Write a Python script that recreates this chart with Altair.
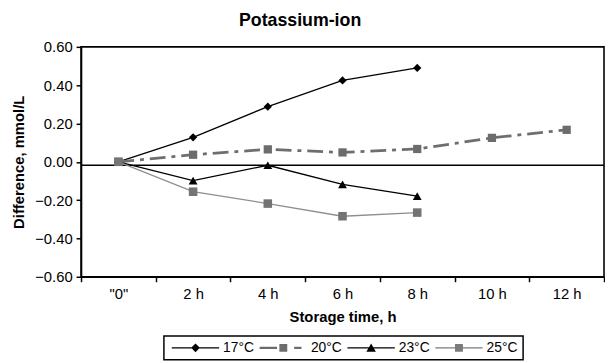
import altair as alt
import pandas as pd

times = ['"0"', "2 h", "4 h", "6 h", "8 h", "10 h", "12 h"]
series_names = ["17°C", "20°C", "23°C", "25°C"]
s17 = [0.0, 0.128, 0.288, 0.425, 0.49]
s20 = [0.0, 0.037, 0.065, 0.049, 0.067, 0.125, 0.167]
s23 = [0.0, -0.098, -0.018, -0.118, -0.179]
s25 = [0.0, -0.156, -0.218, -0.284, -0.265]
y_ticks = [-0.6, -0.4, -0.2, 0.0, 0.2, 0.4, 0.6]
zero_line = [-0.018]

rows = []
for name, vals in zip(series_names, [s17, s20, s23, s25]):
    for t, v in zip(times, vals):
        rows.append({"series": name, "time": t, "value": v})
df = pd.DataFrame(rows)

FONT = "Liberation Sans"

line_styles = {
    "17°C": dict(color="#000000", strokeWidth=1.3),
    "20°C": dict(color="#6e6e6e", strokeWidth=2.8, strokeDash=[16, 6, 4, 6]),
    "23°C": dict(color="#000000", strokeWidth=1.3),
    "25°C": dict(color="#8e8e8e", strokeWidth=1.3),
}
point_styles = {
    "17°C": dict(color="#000000", shape="diamond", size=70),
    "20°C": dict(color="#6c6c6c", shape="square", size=70),
    "23°C": dict(color="#000000", shape="triangle-up", size=80),
    "25°C": dict(color="#747474", shape="square", size=75),
}
legend_colors = ["#000000", "#6c6c6c", "#000000", "#7a7a7a"]

# legend sample paths (unit = 4 px); drawing runs from the entry origin rightwards
legend_paths = [
    "M-1,-0.15H11V0.15H-1Z M5,-1.1L6.1,0L5,1.1L3.9,0Z",
    "M-1,-0.3H3.4V0.3H-1Z M4,-1H6V1H4Z M7.75,-0.3H9.6V0.3H7.75Z",
    "M-1,-0.15H11V0.15H-1Z M5,-1.1L6.2,1L3.8,1Z",
    "M-1,-0.15H11V0.15H-1Z M4,-1H6V1H4Z",
]

y_scale = alt.Scale(domain=[-0.6, 0.6], nice=False, zero=False)

x_enc = alt.X(
    "time:N",
    sort=times,
    scale=alt.Scale(type="band", domain=times, paddingInner=0, paddingOuter=0),
    axis=alt.Axis(
        title="Storage time, h",
        labelAngle=0,
        tickBand="extent",
        tickSize=5,
        tickColor="black",
        tickWidth=1.5,
        labelPadding=5,
        titlePadding=8,
    ),
)
y_enc = alt.Y(
    "value:Q",
    scale=y_scale,
    axis=alt.Axis(
        title="Difference, mmol/L",
        values=y_ticks,
        format=".2f",
        tickSize=5,
        tickColor="black",
        tickWidth=1.5,
        labelPadding=4,
        titlePadding=8,
        grid=False,
    ),
)

layers = []
for name in series_names:
    st = line_styles[name]
    layers.append(
        alt.Chart(df)
        .transform_filter(alt.datum.series == name)
        .mark_line(**st)
        .encode(x=x_enc, y=y_enc)
    )

rule = alt.Chart(pd.DataFrame({"value": zero_line})).mark_rule(
    color="black", strokeWidth=1.3
).encode(y=y_enc)

for name in series_names:
    st = point_styles[name]
    layers.append(
        alt.Chart(df)
        .transform_filter(alt.datum.series == name)
        .mark_point(filled=True, opacity=1, **st)
        .encode(x=x_enc, y=y_enc)
    )

legend_layer = alt.Chart(df).transform_filter("false").mark_point(filled=True, opacity=1).encode(
    x=x_enc,
    y=y_enc,
    color=alt.Color(
        "series:N",
        scale=alt.Scale(domain=series_names, range=legend_colors),
        legend=alt.Legend(title=None),
    ),
    shape=alt.Shape(
        "series:N",
        scale=alt.Scale(domain=series_names, range=legend_paths),
        legend=alt.Legend(title=None),
    ),
)

chart = (
    alt.layer(layers[0], rule, *layers[1:], legend_layer)
    .properties(
        width=530,
        height=233,
        autosize=alt.AutoSizeParams(type="none"),
        padding={"left": 74, "top": 37, "right": 1, "bottom": 85},
        title=alt.TitleParams(
            "Potassium-ion",
            font=FONT,
            fontSize=18,
            fontWeight="bold",
            anchor="middle",
            frame="group",
            dx=-43,
            offset=10,
            color="black",
        ),
    )
    .configure_view(stroke="black", strokeWidth=1.6)
    .configure_axis(
        labelFont=FONT,
        labelFontSize=15,
        labelColor="black",
        titleFont=FONT,
        titleFontSize=15,
        titleFontWeight="bold",
        titleColor="black",
        domainColor="black",
        domainWidth=1.6,
        grid=False,
    )
    .configure_legend(
        orient="none",
        legendX=84,
        legendY=293,
        direction="horizontal",
        columns=4,
        strokeColor="black",
        strokeWidth=1.5,
        fillColor="white",
        padding=5,
        labelFont=FONT,
        labelFontSize=14,
        labelColor="black",
        labelOffset=41,
        columnPadding=2,
        symbolSize=64,
        symbolStrokeWidth=0,
        symbolOpacity=1,
    )
)

chart.save("out.html", embed_options={"renderer": "svg", "actions": False})
